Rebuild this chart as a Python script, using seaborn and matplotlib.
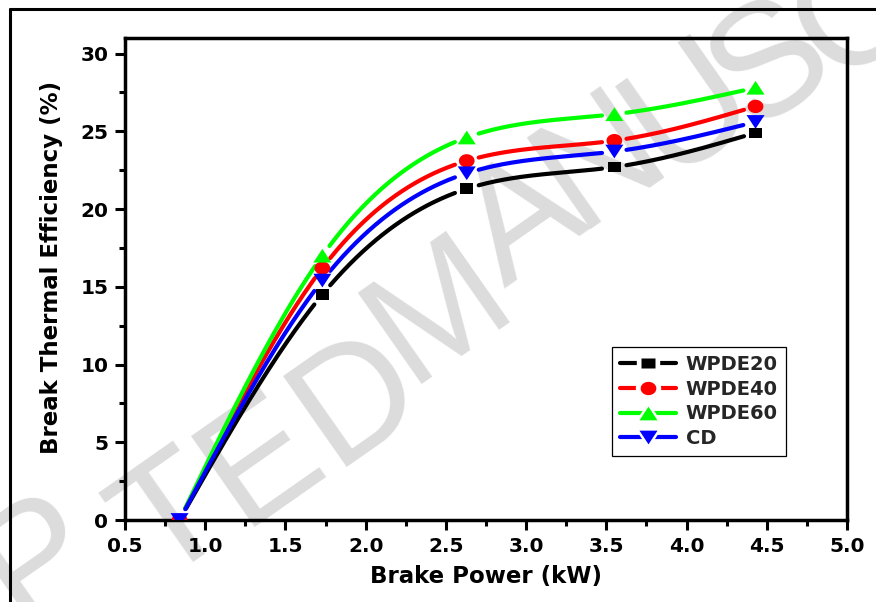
import numpy as np
import pandas as pd
import matplotlib
matplotlib.use("Agg")
import matplotlib.pyplot as plt
import seaborn as sns
from matplotlib.lines import Line2D
from matplotlib.path import Path
from matplotlib.ticker import MultipleLocator

# ---- data ----
brake_power = [0.84, 1.73, 2.63, 3.55, 4.43]
wpde20 = [0.0, 14.5, 21.3, 22.7, 24.9]
wpde40 = [0.0, 16.2, 23.1, 24.4, 26.6]
wpde60 = [0.0, 17.0, 24.6, 26.1, 27.8]
cd = [0.0, 15.4, 22.3, 23.7, 25.6]
series_names = ["WPDE20", "WPDE40", "WPDE60", "CD"]
x_ticks = [0.5, 1.0, 1.5, 2.0, 2.5, 3.0, 3.5, 4.0, 4.5, 5.0]
y_ticks = [0, 5, 10, 15, 20, 25, 30]

series_values = [wpde20, wpde40, wpde60, cd]
colors = ["#000000", "#ff0000", "#00ff00", "#0000ff"]

# symbols slightly wider than tall, like the reference
_t = np.linspace(0, 2 * np.pi, 60)
sq_path = Path([(-1.25, -1), (1.25, -1), (1.25, 1), (-1.25, 1), (-1.25, -1)], closed=True)
ci_path = Path(np.column_stack([1.18 * np.cos(_t), np.sin(_t)]), closed=True)
up_path = Path([(-1, -0.76), (1, -0.76), (0, 0.76), (-1, -0.76)], closed=True)
dn_path = Path([(-1, 0.76), (1, 0.76), (0, -0.76), (-1, 0.76)], closed=True)
markers = [sq_path, ci_path, up_path, dn_path]
msizes = [9.6, 11.3, 13.0, 13.0]

sns.set_theme(style="ticks")
plt.rcParams["font.family"] = ["DejaVu Sans"]

W, H = 876, 602
fig = plt.figure(figsize=(W / 100, H / 100), dpi=100)
fig.patch.set_facecolor("white")
ax = fig.add_axes([125 / W, 82 / H, 722 / W, 482 / H])
ax.set_xlim(0.5, 5.0)
ax.set_ylim(0, 31)
ax.patch.set_facecolor("none")

# watermark letters (decoration), placed along a rising diagonal
wm_letters = ["P", "T", "E", "D", "M", "A", "N", "U", "S", "C"]
wm_px = [(40, 560), (175, 522), (262, 462), (358, 400), (440, 312),
         (525, 225), (602, 162), (690, 110), (772, 66), (858, 16)]
for ch, (px, py) in zip(wm_letters, wm_px):
    fig.text(px / W, 1 - py / H, ch, rotation=35, rotation_mode="anchor",
             ha="center", va="center", fontsize=116, color="#dcdcdc",
             family=["Liberation Sans"], zorder=-5)

# figure frame (left and top edges visible)
fig.add_artist(Line2D([10 / W, 10 / W], [0, 1 - 9 / H], transform=fig.transFigure,
                      color="black", lw=2.2))
fig.add_artist(Line2D([10 / W, 1], [1 - 9 / H, 1 - 9 / H], transform=fig.transFigure,
                      color="black", lw=2.2))


def natural_spline(x, y, xs):
    x = np.asarray(x, float)
    y = np.asarray(y, float)
    n = len(x)
    h = np.diff(x)
    A = np.zeros((n, n))
    b = np.zeros(n)
    A[0, 0] = 1
    A[-1, -1] = 1
    for i in range(1, n - 1):
        A[i, i - 1] = h[i - 1]
        A[i, i] = 2 * (h[i - 1] + h[i])
        A[i, i + 1] = h[i]
        b[i] = 6 * ((y[i + 1] - y[i]) / h[i] - (y[i] - y[i - 1]) / h[i - 1])
    M = np.linalg.solve(A, b)
    idx = np.clip(np.searchsorted(x, xs) - 1, 0, n - 2)
    x0, x1 = x[idx], x[idx + 1]
    hh = x1 - x0
    return (M[idx] * (x1 - xs) ** 3 / (6 * hh) + M[idx + 1] * (xs - x0) ** 3 / (6 * hh)
            + (y[idx] / hh - M[idx] * hh / 6) * (x1 - xs)
            + (y[idx + 1] / hh - M[idx + 1] * hh / 6) * (xs - x0))


gap_px = 12
for name, vals, c, m, ms in zip(series_names, series_values, colors, markers, msizes):
    xs = np.linspace(brake_power[0], brake_power[-1], 800)
    ys = natural_spline(brake_power, vals, xs)
    disp = ax.transData.transform(np.column_stack([xs, ys]))
    pts = ax.transData.transform(np.column_stack([brake_power, vals]))
    d = np.min(np.hypot(disp[:, None, 0] - pts[None, :, 0],
                        disp[:, None, 1] - pts[None, :, 1]), axis=1)
    keep = d > gap_px
    seg = np.cumsum(np.r_[1, np.diff(keep.astype(int)) != 0])
    df = pd.DataFrame({"x": xs, "y": ys, "seg": seg})[keep]
    sns.lineplot(data=df, x="x", y="y", units="seg", estimator=None, sort=False,
                 color=c, lw=3, ax=ax, solid_capstyle="round", legend=False)
    dpts = pd.DataFrame({"x": brake_power, "y": vals})
    sns.scatterplot(data=dpts, x="x", y="y", marker=m, s=ms ** 2, color=c,
                    edgecolor="none", linewidth=0, ax=ax, legend=False, zorder=4)

# axes styling
for s in ax.spines.values():
    s.set_color("black")
    s.set_linewidth(2.5)
ax.set_xticks(x_ticks)
ax.set_yticks(y_ticks)
ax.set_xticklabels([f"{v:.1f}" for v in x_ticks])
ax.set_yticklabels([str(v) for v in y_ticks])
ax.xaxis.set_minor_locator(MultipleLocator(0.25))
ax.yaxis.set_minor_locator(MultipleLocator(2.5))
ax.tick_params(which="major", direction="out", length=7, width=2.2, color="black",
               labelsize=14.5, pad=5, labelcolor="black")
ax.tick_params(which="minor", direction="out", length=4, width=2.2, color="black")
for lab in ax.get_xticklabels() + ax.get_yticklabels():
    lab.set_fontweight("bold")

ax.set_xlabel("Brake Power (kW)", fontsize=16.5, fontweight="bold", color="black", labelpad=7)
ax.set_ylabel("Break Thermal Efficiency (%)", fontsize=16.5, fontweight="bold",
              color="black")
ax.yaxis.set_label_coords(-0.086, 0.525)

# legend with gap between line and symbol
handles = []
for c, m, ms in zip(colors, markers, msizes):
    line = Line2D([], [], color=c, lw=3, solid_capstyle="round")
    white = Line2D([], [], color="white", lw=0, marker=m, ms=ms + 6,
                   markerfacecolor="white", markeredgecolor="white")
    mk = Line2D([], [], color=c, lw=0, marker=m, ms=ms, markeredgecolor="none")
    handles.append((line, white, mk))
leg = ax.legend(handles, series_names, loc="upper left",
                bbox_to_anchor=(0.6745, 0.359), prop={"weight": "bold", "size": 14},
                frameon=True, fancybox=False, edgecolor="black", framealpha=1,
                handlelength=2.9, labelspacing=0.3, handletextpad=0.5,
                borderpad=0.4, borderaxespad=0)
leg.get_frame().set_linewidth(0.9)

fig.savefig("out.png", dpi=100, facecolor="white")
